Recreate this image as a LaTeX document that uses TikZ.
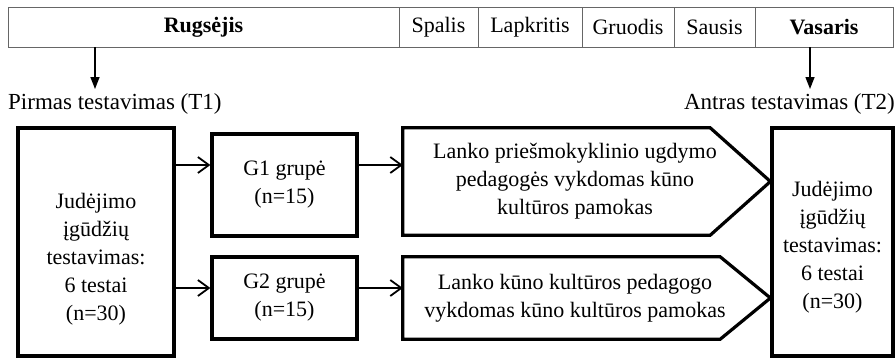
\documentclass[tikz,border=0pt]{standalone}
\usepackage{fontspec}
\setmainfont{Liberation Serif}
\usetikzlibrary{positioning,arrows.meta}
\newcommand{\diagfont}{\fontsize{22}{28}\selectfont}

\begin{document}
\begin{tikzpicture}[x=1pt, y=1pt, font=\diagfont,
	cell node/.style={rectangle,draw=black!60,line width=0.8pt,minimum height=40,inner sep=0,outer sep=0},
	box node/.style={rectangle,draw,line width=3.2pt,align=center,inner sep=0},
	text node/.style={align=center,inner sep=0},
	conn/.style={line width=1.8pt,-{Straight Barb[length=11pt,width=16pt]}},
	drop arrow/.style={line width=1.4pt,-{Triangle[length=12pt,width=9pt]}}]
	\useasboundingbox (0,0) rectangle (896,-360);
	
	% months
	\node[cell node,minimum width=391] (rug) at (203.5,-27) {\bfseries Rugsėjis};
	\node[cell node,minimum width=79] (spa) [right=0pt of rug] {Spalis};
	\node[cell node,minimum width=104] (lap) [right=0pt of spa] {Lapkritis};
	\node[cell node,minimum width=92] (gru) [right=0pt of lap] {Gruodis};
	\node[cell node,minimum width=81] (sau) [right=0pt of gru] {Sausis};
	\node[cell node,minimum width=138] (vas) [right=0pt of sau] {\bfseries Vasaris};
	
	\node[text node,anchor=west,font=\fontsize{23}{28}\selectfont] (t1) at (8,-104) {Pirmas testavimas (T1)};
	\node[text node,anchor=east,font=\fontsize{23}{28}\selectfont] (t2) at (895,-104) {Antras testavimas (T2)};
	\coordinate (tip1) at (95,-89);
	\coordinate (tip2) at (810,-89);
	\draw[drop arrow] (tip1 |- rug.south) -- (tip1);
	\draw[drop arrow] (tip2 |- vas.south) -- (tip2);
	
	% testing boxes
	\node[box node,minimum width=156,minimum height=228] (lbox) at (96,-242) {};
	\node[text node] (ltext) at (96,-259) {Judėjimo\\įgūdžių\\testavimas:\\6 testai\\(n=30)};
	\node[box node,minimum width=121,minimum height=228] (rbox) at (832.5,-242) {};
	\node[text node] (rtext) at (832.5,-247) {Judėjimo\\įgūdžių\\testavimas:\\6 testai\\(n=30)};
	
	% groups
	\node[box node,minimum width=145,minimum height=102] (g1) at (284.5,-185) {G1 grupė\\(n=15)};
	\node[box node,minimum width=145,minimum height=82] (g2) at (284.5,-298) {G2 grupė\\(n=15)};
	
	% lessons
	\node[text node,minimum width=344,minimum height=107] (les1) at (575,-181.5)
		{Lanko priešmokyklinio ugdymo\\pedagogės vykdomas kūno\\kultūros pamokas};
	\node[text node,minimum width=344,minimum height=82] (les2) at (575,-298)
		{Lanko kūno kultūros pedagogo\\vykdomas kūno kultūros pamokas};
	\draw[line width=3.2pt] (les1.north west) -- ([xshift=-37pt]les1.north east)
		-- (les1.east -| rbox.west) -- ([xshift=-37pt]les1.south east) -- (les1.south west) -- cycle;
	\draw[line width=3.2pt] (les2.north west) -- ([xshift=-27pt]les2.north east)
		-- (les2.east -| rbox.west) -- ([xshift=-27pt]les2.south east) -- (les2.south west) -- cycle;
	
	\coordinate (r1) at (0,-165);
	\coordinate (r2) at (0,-288);
	\draw[conn] (lbox.east |- r1) -- (g1.west |- r1);
	\draw[conn] (lbox.east |- r2) -- (g2.west |- r2);
	\draw[conn] (g1.east |- r1) -- (les1.west |- r1);
	\draw[conn] (g2.east |- r2) -- (les2.west |- r2);
\end{tikzpicture}
\end{document}
